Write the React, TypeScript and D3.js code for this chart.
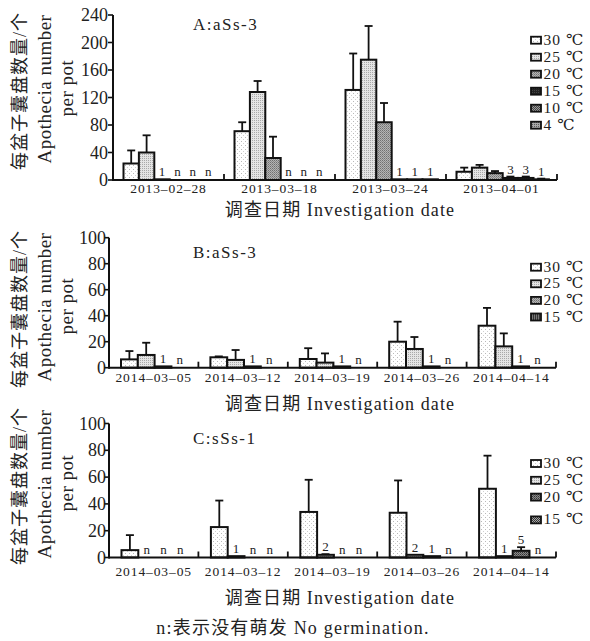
import React from 'react';
import * as d3 from 'd3';

// Panel A: aSs-3, 2013
const tempsA = ['30 ℃', '25 ℃', '20 ℃', '15 ℃', '10 ℃', '4 ℃'];
const datesA = ['2013–02–28', '2013–03–18', '2013–03–24', '2013–04–01'];
const meansA = [
  [24, 40, 1, 0, 0, 0],
  [71, 128, 32, 0, 0, 0],
  [131, 175, 84, 1, 1, 1],
  [12, 18, 10, 3, 3, 1],
];
const errA = [
  [19, 25, 0, 0, 0, 0],
  [13, 16, 31, 0, 0, 0],
  [53, 49, 28, 0, 0, 0],
  [6, 4, 3, 2, 2, 1],
];
const labelsA = [
  ['', '', '1', 'n', 'n', 'n'],
  ['', '', '', 'n', 'n', 'n'],
  ['', '', '', '1', '1', '1'],
  ['', '', '', '3', '3', '1'],
];
const ticksA = [0, 40, 80, 120, 160, 200, 240];

// Panel B: aSs-3, 2014
const tempsB = ['30 ℃', '25 ℃', '20 ℃', '15 ℃'];
const datesB = ['2014–03–05', '2014–03–12', '2014–03–19', '2014–03–26', '2014–04–14'];
const meansB = [
  [6.4, 9.8, 1, 0],
  [8, 6, 1, 0],
  [6.7, 3.9, 1, 0],
  [20, 14.4, 1, 0],
  [32.3, 16.4, 1, 0],
];
const errB = [
  [6.4, 9.4, 0, 0],
  [0.7, 7.6, 0, 0],
  [8.3, 7.1, 0, 0],
  [15.4, 9.2, 0, 0],
  [13.7, 10, 0, 0],
];
const labelsB = [
  ['', '', '1', 'n'],
  ['', '', '1', 'n'],
  ['', '', '1', 'n'],
  ['', '', '1', 'n'],
  ['', '', '1', 'n'],
];

// Panel C: sSs-1, 2014
const tempsC = ['30 ℃', '25 ℃', '20 ℃', '15 ℃'];
const datesC = ['2014–03–05', '2014–03–12', '2014–03–19', '2014–03–26', '2014–04–14'];
const meansC = [
  [5.5, 0, 0, 0],
  [22.7, 1, 0, 0],
  [34, 2, 0, 0],
  [33.4, 2, 1, 0],
  [51.3, 1, 5, 0],
];
const errC = [
  [11.2, 0, 0, 0],
  [19.8, 0, 0, 0],
  [24, 0.5, 0, 0],
  [24.1, 0, 0, 0],
  [24.7, 0, 2.7, 0],
];
const labelsC = [
  ['', 'n', 'n', 'n'],
  ['', '1', 'n', 'n'],
  ['', '2', 'n', 'n'],
  ['', '2', '1', 'n'],
  ['', '1', '5', 'n'],
];
const ticksBC = [0, 20, 40, 60, 80, 100];

const serif = '"Liberation Serif", "DejaVu Serif", "Noto Sans CJK SC", serif';

const panels = [
  {
    key: 'A', title: 'A:aSs-3', temps: tempsA, dates: datesA, means: meansA, errs: errA, labels: labelsA,
    ticks: ticksA, max: 240, y0: 180, yTop: 15, left: 113, right: 557, padL: 10.5, barW: 15.4,
    dateDy: 13, axisTitleY: 216, ylabCY: 91, legendY: 44.7, legendStep: 17, legendLast: 0, tickGap: 5,
    fills: ['url(#p30)', 'url(#p25)', 'url(#p20)', 'url(#p15a)', 'url(#p10)', 'url(#p4)'],
  },
  {
    key: 'B', title: 'B:aSs-3', temps: tempsB, dates: datesB, means: meansB, errs: errB, labels: labelsB,
    ticks: ticksBC, max: 100, y0: 367.7, yTop: 237.7, left: 109, right: 556, padL: 12, barW: 16.8,
    dateDy: 14, axisTitleY: 410, ylabCY: 309, legendY: 271.7, legendStep: 16.6, legendLast: 0, tickGap: 3,
    fills: ['url(#p30)', 'url(#p25)', 'url(#p20)', 'url(#p15b)'],
  },
  {
    key: 'C', title: 'C:sSs-1', temps: tempsC, dates: datesC, means: meansC, errs: errC, labels: labelsC,
    ticks: ticksBC, max: 100, y0: 557.5, yTop: 423.5, left: 109, right: 556, padL: 12.5, barW: 16.8,
    dateDy: 18, axisTitleY: 604, ylabCY: 486, legendY: 468, legendStep: 16.8, legendLast: 6, tickGap: 3,
    fills: ['url(#p30)', 'url(#p25)', 'url(#p20c)', 'url(#p15c)'],
  },
];

function Panel({ p }: { p: any }) {
  const yScale = d3.scaleLinear().domain([0, p.max]).range([p.y0, p.yTop]);
  const xGroup = d3.scaleBand<string>().domain(p.dates).range([p.left, p.right]);
  const xInner = d3.scaleBand<string>().domain(p.temps)
    .range([p.padL, p.padL + p.temps.length * p.barW]);
  const bw = xInner.bandwidth();
  const boundaries = p.dates.map((d: string) => (xGroup(d) as number) + xGroup.bandwidth());

  return (
    <g>
      {/* bars */}
      {p.dates.map((date: string, gi: number) => (
        <g key={date}>
          {p.temps.map((t: string, ti: number) => {
            const v = p.means[gi][ti];
            const e = p.errs[gi][ti];
            const x = (xGroup(date) as number) + (xInner(t) as number);
            const cx = x + bw / 2;
            const lab = p.labels[gi][ti];
            const labY = Math.min(p.y0 - 4, yScale(v + e) - 3);
            return (
              <g key={t}>
                {e > 0 && (
                  <g stroke="#111" strokeWidth={1.8}>
                    <line x1={cx} x2={cx} y1={yScale(v)} y2={yScale(v + e)} />
                    <line x1={cx - 4} x2={cx + 4} y1={yScale(v + e)} y2={yScale(v + e)} />
                  </g>
                )}
                {v > 0 && (
                  <rect x={x} y={yScale(v)} width={bw} height={p.y0 - yScale(v)}
                    fill={p.fills[ti]} stroke="#111" strokeWidth={2} />
                )}
                {lab && (
                  <text x={cx} y={labY} textAnchor="middle" fontSize={13} fontFamily={serif} fill="#222">{lab}</text>
                )}
              </g>
            );
          })}
        </g>
      ))}

      {/* y axis */}
      <line x1={p.left} x2={p.left} y1={p.y0 + 1} y2={p.yTop} stroke="#111" strokeWidth={2} />
      {p.ticks.map((t: number) => (
        <g key={t}>
          <line x1={p.left - 5} x2={p.left} y1={yScale(t)} y2={yScale(t)} stroke="#111" strokeWidth={1.6} />
          <text x={p.left - p.tickGap} y={yScale(t)} dy="0.34em" textAnchor="end" fontSize={18}
            fontFamily={serif} fill="#222">{t}</text>
        </g>
      ))}

      {/* x axis */}
      <line x1={p.left} x2={p.right} y1={p.y0} y2={p.y0} stroke="#111" strokeWidth={2} />
      {boundaries.map((b: number, i: number) => (
        <line key={i} x1={b} x2={b} y1={p.y0} y2={p.y0 - 6} stroke="#111" strokeWidth={1.8} />
      ))}
      {p.dates.map((d: string) => (
        <text key={d} x={(xGroup(d) as number) + xGroup.bandwidth() / 2} y={p.y0 + p.dateDy}
          textAnchor="middle" fontSize={13.5} letterSpacing={0.9} fontFamily={serif} fill="#222">{d}</text>
      ))}
      <text x={340} y={p.axisTitleY} textAnchor="middle" fontSize={18} letterSpacing={1.1}
        fontFamily={serif} fill="#222">调查日期 Investigation date</text>

      {/* title */}
      <text x={193} y={p.yTop + (p.key === 'A' ? 15 : 20.6)} fontSize={17} letterSpacing={1.5}
        fontFamily={serif} fill="#222">{p.title}</text>

      {/* y label */}
      <g fontFamily={serif} fill="#222" textAnchor="middle">
        <text transform={`translate(26, ${p.ylabCY}) rotate(-90)`} fontSize={18} letterSpacing={1}>每盆子囊盘数量/个</text>
        <text transform={`translate(51, ${p.ylabCY - 2}) rotate(-90)`} fontSize={19} letterSpacing={0.5}>Apothecia number</text>
        <text transform={`translate(73, ${p.ylabCY - 3}) rotate(-90)`} fontSize={19} letterSpacing={0.5}>per pot</text>
      </g>

      {/* legend */}
      {p.temps.map((t: string, i: number) => {
        const by = p.legendY + i * p.legendStep + (i === p.temps.length - 1 ? p.legendLast : 0);
        return (
          <g key={t}>
            <rect x={531} y={by - 8} width={10} height={7} fill={p.fills[i]} stroke="#111" strokeWidth={1.8} />
            <text x={543.5} y={by} fontSize={15.5} letterSpacing={1} fontFamily={serif} fill="#222">{t}</text>
          </g>
        );
      })}
    </g>
  );
}

export default function App() {
  return (
    <svg width={590} height={641} style={{ position: 'absolute', left: 0, top: 0, background: '#fff' }}>
      <defs>
        <pattern id="p30" width={4} height={4} patternUnits="userSpaceOnUse">
          <rect width={4} height={4} fill="#fff" />
          <rect x={1} y={1} width={1} height={1} fill="#b8b8b8" />
          <rect x={3} y={3} width={1} height={1} fill="#d0d0d0" />
        </pattern>
        <pattern id="p25" width={2} height={2} patternUnits="userSpaceOnUse">
          <rect width={2} height={2} fill="#e4e4e4" />
          <rect width={1} height={1} fill="#a8a8a8" />
        </pattern>
        <pattern id="p20" width={2} height={2} patternUnits="userSpaceOnUse">
          <rect width={2} height={2} fill="#b4b4b4" />
          <rect width={1} height={1} fill="#707070" />
          <rect x={1} y={1} width={1} height={1} fill="#8a8a8a" />
        </pattern>
        <pattern id="p15a" width={2} height={2} patternUnits="userSpaceOnUse">
          <rect width={2} height={2} fill="#222" />
          <rect width={1} height={1} fill="#444" />
        </pattern>
        <pattern id="p10" width={2} height={2} patternUnits="userSpaceOnUse">
          <rect width={2} height={2} fill="#9a9a9a" />
          <rect width={1} height={1} fill="#444" />
          <rect x={1} y={1} width={1} height={1} fill="#444" />
        </pattern>
        <pattern id="p4" width={2} height={2} patternUnits="userSpaceOnUse">
          <rect width={2} height={2} fill="#a8a8a8" />
          <rect width={1} height={1} fill="#5a5a5a" />
        </pattern>
        <pattern id="p15b" width={2} height={2} patternUnits="userSpaceOnUse">
          <rect width={2} height={2} fill="#333" />
          <rect width={1} height={2} fill="#777" />
        </pattern>
        <pattern id="p20c" width={2} height={2} patternUnits="userSpaceOnUse">
          <rect width={2} height={2} fill="#8a8a8a" />
          <rect width={1} height={1} fill="#333" />
          <rect x={1} y={1} width={1} height={1} fill="#555" />
        </pattern>
        <pattern id="p15c" width={2} height={2} patternUnits="userSpaceOnUse">
          <rect width={2} height={2} fill="#aaa" />
          <rect width={1} height={1} fill="#333" />
          <rect x={1} y={1} width={1} height={1} fill="#333" />
        </pattern>
      </defs>
      {panels.map((p) => <Panel key={p.key} p={p} />)}
      <text x={293} y={634} textAnchor="middle" fontSize={18} letterSpacing={1.2} fontFamily={serif}
        fill="#222">n:表示没有萌发 No germination.</text>
    </svg>
  );
}
